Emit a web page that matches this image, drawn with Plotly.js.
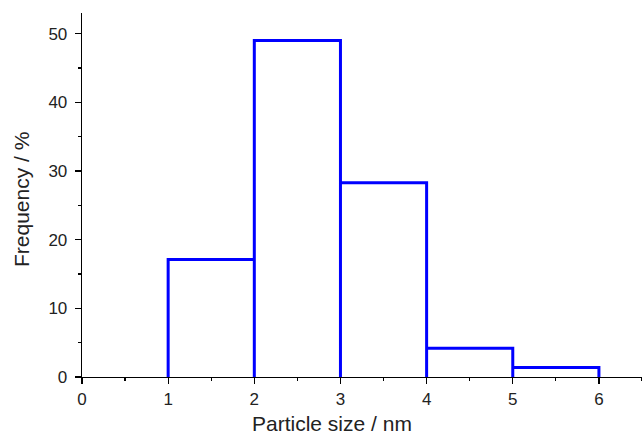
<!DOCTYPE html>
<html><head><meta charset="utf-8">
<script src="https://cdn.plot.ly/plotly-3.0.1.min.js"></script>
<style>html,body{margin:0;padding:0;background:#fff}#chart{width:642px;height:435px}</style>
</head><body><div id="chart"></div>
<script>
const binLower = [1, 2, 3, 4, 5];
const binUpper = [2, 3, 4, 5, 6];
const frequency = [17.1, 49.0, 28.3, 4.2, 1.4];
const xTicks = [0, 1, 2, 3, 4, 5, 6];
const yTicks = [0, 10, 20, 30, 40, 50];
const xTitle = 'Particle size / nm';
const yTitle = 'Frequency / %';

const xs = [], ys = [];
for (let i = 0; i < frequency.length; i++) {
  xs.push(binLower[i], binLower[i], binUpper[i], binUpper[i]);
  ys.push(0, frequency[i], frequency[i], 0);
}

const fam = 'Liberation Sans, Arial, sans-serif';
const font = {family: fam, size: 17, color: '#222'};
const titleFont = {family: fam, size: 21, color: '#222'};
const axisCommon = {
  showgrid: false, zeroline: false, showline: true, linecolor: '#000', linewidth: 1.3,
  ticks: 'outside', ticklen: 6, tickwidth: 1.3, tickcolor: '#000',
  tickfont: font, mirror: false, fixedrange: true
};
const layout = {
  width: 642, height: 435,
  margin: {l: 82, r: 0, t: 13, b: 58},
  paper_bgcolor: '#fff', plot_bgcolor: '#fff',
  showlegend: false,
  xaxis: Object.assign({}, axisCommon, {
    range: [0, 6.5], tickvals: xTicks, ticktext: xTicks.map(String),
    ticklabelstandoff: 0,
    minor: {dtick: 0.5, ticks: 'outside', ticklen: 3, tickwidth: 1.3, tickcolor: '#000'}
  }),
  yaxis: Object.assign({}, axisCommon, {
    range: [0, 53], tickvals: yTicks, ticktext: yTicks.map(String),
    ticklabelstandoff: 4,
    minor: {dtick: 5, ticks: 'outside', ticklen: 3, tickwidth: 1.3, tickcolor: '#000'}
  }),
  annotations: [
    {text: xTitle, font: titleFont, showarrow: false, xref: 'x', x: 2.9,
     yref: 'paper', y: 0, yanchor: 'top', yshift: -33},
    {text: yTitle, font: titleFont, showarrow: false, textangle: -90,
     xref: 'paper', x: 0, xanchor: 'center', xshift: -61,
     yref: 'paper', y: 0.5, yanchor: 'middle', yshift: -5}
  ]
};
Plotly.newPlot('chart', [{
  type: 'scatter', mode: 'lines', x: xs, y: ys,
  line: {color: '#0000ff', width: 3}, cliponaxis: false, hoverinfo: 'none'
}], layout, {staticPlot: true});
</script></body></html>
